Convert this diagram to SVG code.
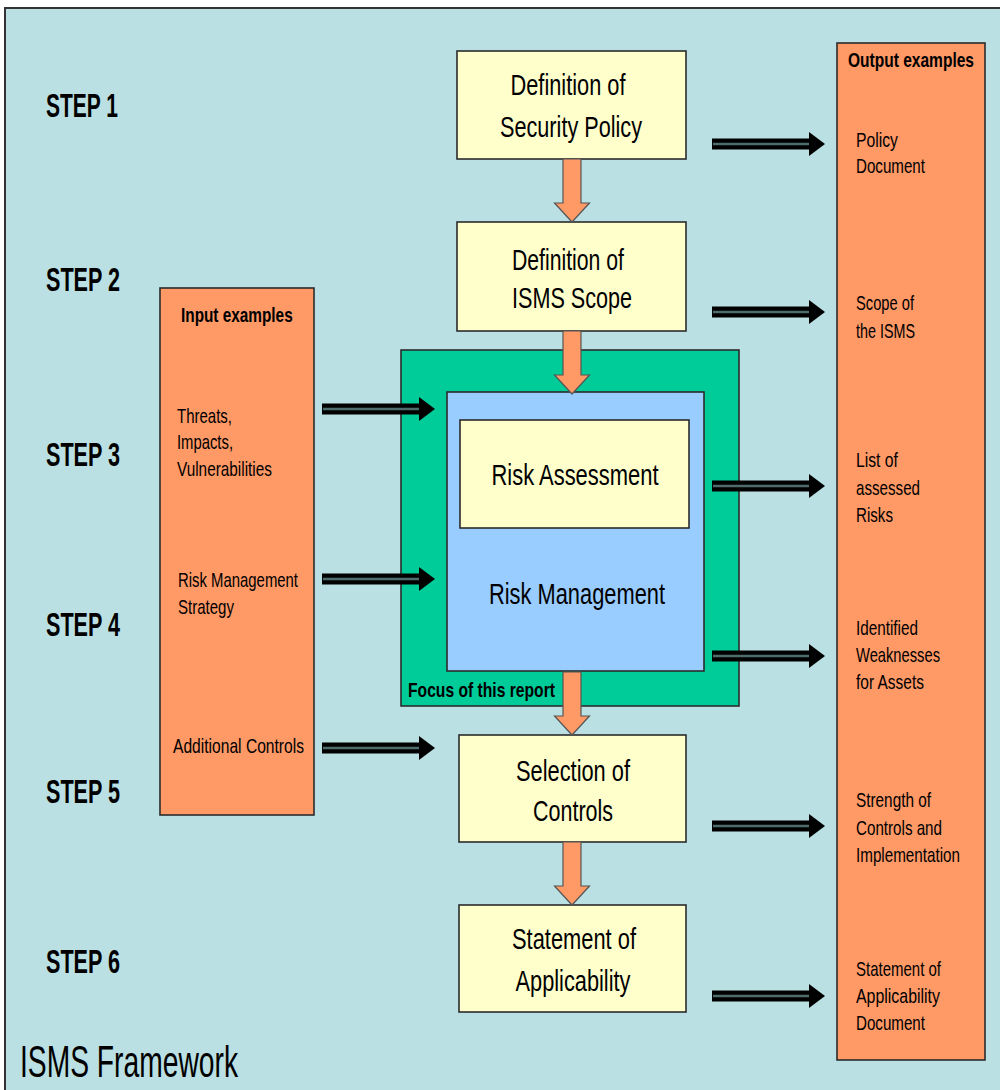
<svg xmlns="http://www.w3.org/2000/svg" width="1000" height="1090" viewBox="0 0 1000 1090">
  <style>
    text { font-family: "Liberation Sans", Arial, sans-serif; fill: #000; }
    .box { stroke: #2b2b2b; stroke-width: 1.6; }
    .yellow { fill: #FFFFCC; }
    .orange { fill: #FF9966; }
    .green { fill: #00CC99; }
    .blue { fill: #99CCFF; }
    .step { font-size: 33px; font-weight: bold; }
    .main { font-size: 30px; text-anchor: middle; }
    .small { font-size: 21px; }
    .head { font-size: 21px; font-weight: bold; }
    .flow { fill: #FF9966; stroke: #555; stroke-width: 1.2; }
    .shaft { fill: #000; }
    .gap { stroke: #4e6c6c; stroke-width: 2.5; }
  </style>
  <defs>
    <!-- double-line arrow pointing right, origin at the left end of the shaft -->
    <g id="dbl">
      <rect class="shaft" x="0" y="-5.5" width="99" height="11"/>
      <line class="gap" x1="1" y1="0" x2="98" y2="0"/>
      <polygon class="shaft" points="97,-12 113,0 97,12"/>
    </g>
    <!-- wide block arrow pointing down, origin at the top centre -->
    <g id="blk44">
      <polygon class="flow" points="-9,0 9,0 9,44 17.5,44 0,63 -17.5,44 -9,44"/>
    </g>
  </defs>

  <!-- page frame -->
  <rect x="0" y="0" width="1000" height="1090" fill="#ffffff"/>
  <rect x="5" y="8" width="1010" height="1100" fill="#BBE0E3" stroke="#333" stroke-width="2"/>

  <!-- step labels -->
  <g id="steps">
    <text class="step" x="46" y="117" textLength="72" lengthAdjust="spacingAndGlyphs">STEP 1</text>
    <text class="step" x="46" y="291" textLength="74" lengthAdjust="spacingAndGlyphs">STEP 2</text>
    <text class="step" x="46" y="466" textLength="74" lengthAdjust="spacingAndGlyphs">STEP 3</text>
    <text class="step" x="46" y="636" textLength="74" lengthAdjust="spacingAndGlyphs">STEP 4</text>
    <text class="step" x="46" y="803" textLength="74" lengthAdjust="spacingAndGlyphs">STEP 5</text>
    <text class="step" x="46" y="973" textLength="74" lengthAdjust="spacingAndGlyphs">STEP 6</text>
  </g>

  <!-- input examples column -->
  <g id="inputs">
    <rect class="box orange" x="160" y="288" width="154" height="527"/>
    <text class="head" transform="translate(181 322) scale(0.73 1)" x="0" y="0" textLength="153" lengthAdjust="spacingAndGlyphs">Input examples</text>
    <text class="small" x="177" y="423" textLength="55" lengthAdjust="spacingAndGlyphs">Threats,</text>
    <text class="small" x="177" y="449" textLength="56" lengthAdjust="spacingAndGlyphs">Impacts,</text>
    <text class="small" x="177" y="476" textLength="95" lengthAdjust="spacingAndGlyphs">Vulnerabilities</text>
    <text class="small" x="178" y="587" textLength="120" lengthAdjust="spacingAndGlyphs">Risk Management</text>
    <text class="small" x="178" y="614" textLength="56" lengthAdjust="spacingAndGlyphs">Strategy</text>
    <text class="small" x="173" y="753" textLength="131" lengthAdjust="spacingAndGlyphs">Additional Controls</text>
  </g>

  <!-- output examples column -->
  <g id="outputs">
    <rect class="box orange" x="837" y="43" width="148" height="1017"/>
    <text class="head" transform="translate(848 67) scale(0.741 1)" x="0" y="0" textLength="170" lengthAdjust="spacingAndGlyphs">Output examples</text>
    <text class="small" x="856" y="147" textLength="42" lengthAdjust="spacingAndGlyphs">Policy</text>
    <text class="small" x="856" y="173" textLength="69" lengthAdjust="spacingAndGlyphs">Document</text>
    <text class="small" x="856" y="310" textLength="58" lengthAdjust="spacingAndGlyphs">Scope of</text>
    <text class="small" x="856" y="338" textLength="59" lengthAdjust="spacingAndGlyphs">the ISMS</text>
    <text class="small" x="856" y="467" textLength="42" lengthAdjust="spacingAndGlyphs">List of</text>
    <text class="small" x="856" y="495" textLength="64" lengthAdjust="spacingAndGlyphs">assessed</text>
    <text class="small" x="856" y="522" textLength="37" lengthAdjust="spacingAndGlyphs">Risks</text>
    <text class="small" x="856" y="635" textLength="62" lengthAdjust="spacingAndGlyphs">Identified</text>
    <text class="small" x="856" y="662" textLength="84" lengthAdjust="spacingAndGlyphs">Weaknesses</text>
    <text class="small" x="856" y="689" textLength="68" lengthAdjust="spacingAndGlyphs">for Assets</text>
    <text class="small" x="856" y="807" textLength="75" lengthAdjust="spacingAndGlyphs">Strength of</text>
    <text class="small" x="856" y="835" textLength="86" lengthAdjust="spacingAndGlyphs">Controls and</text>
    <text class="small" x="856" y="862" textLength="104" lengthAdjust="spacingAndGlyphs">Implementation</text>
    <text class="small" x="856" y="976" textLength="85" lengthAdjust="spacingAndGlyphs">Statement of</text>
    <text class="small" x="856" y="1003" textLength="84" lengthAdjust="spacingAndGlyphs">Applicability</text>
    <text class="small" x="856" y="1030" textLength="69" lengthAdjust="spacingAndGlyphs">Document</text>
  </g>

  <!-- focus area with risk management -->
  <g id="focus">
    <rect class="box green" x="401" y="350" width="338" height="356"/>
    <text class="head" x="408" y="697" textLength="147" lengthAdjust="spacingAndGlyphs">Focus of this report</text>
  </g>
  <g id="risk-management">
    <rect class="box blue" x="447" y="392" width="257" height="279"/>
    <text class="main" x="577" y="604" textLength="176" lengthAdjust="spacingAndGlyphs">Risk Management</text>
  </g>
  <g id="risk-assessment">
    <rect class="box yellow" x="460" y="420" width="229" height="108"/>
    <text class="main" x="575" y="485" textLength="167" lengthAdjust="spacingAndGlyphs">Risk Assessment</text>
  </g>

  <!-- process steps -->
  <g id="security-policy">
    <rect class="box yellow" x="457" y="51" width="229" height="108"/>
    <text class="main" x="568" y="95" textLength="115" lengthAdjust="spacingAndGlyphs">Definition of</text>
    <text class="main" x="571" y="137" textLength="142" lengthAdjust="spacingAndGlyphs">Security Policy</text>
  </g>
  <g id="isms-scope">
    <rect class="box yellow" x="457" y="222" width="229" height="109"/>
    <text class="main" x="568" y="270" textLength="112" lengthAdjust="spacingAndGlyphs">Definition of</text>
    <text class="main" x="572" y="308" textLength="120" lengthAdjust="spacingAndGlyphs">ISMS Scope</text>
  </g>
  <g id="selection-of-controls">
    <rect class="box yellow" x="459" y="735" width="227" height="107"/>
    <text class="main" x="573" y="781" textLength="114" lengthAdjust="spacingAndGlyphs">Selection of</text>
    <text class="main" x="573" y="821" textLength="80" lengthAdjust="spacingAndGlyphs">Controls</text>
  </g>
  <g id="statement-of-applicability">
    <rect class="box yellow" x="459" y="905" width="227" height="107"/>
    <text class="main" x="574" y="949" textLength="124" lengthAdjust="spacingAndGlyphs">Statement of</text>
    <text class="main" x="573" y="991" textLength="115" lengthAdjust="spacingAndGlyphs">Applicability</text>
  </g>

  <!-- connectors -->
  <g id="connectors">
    <use href="#blk44" x="572" y="159"/>
    <use href="#blk44" x="572" y="331"/>
    <use href="#blk44" x="572" y="672"/>
    <use href="#blk44" x="572" y="842"/>

    <use href="#dbl" x="322" y="409"/>
    <use href="#dbl" x="322" y="579"/>
    <use href="#dbl" x="322" y="748"/>

    <use href="#dbl" x="712" y="144"/>
    <use href="#dbl" x="712" y="312"/>
    <use href="#dbl" x="712" y="486"/>
    <use href="#dbl" x="712" y="656"/>
    <use href="#dbl" x="712" y="826"/>
    <use href="#dbl" x="712" y="996"/>
  </g>

  <text x="20" y="1077" font-size="44" textLength="218" lengthAdjust="spacingAndGlyphs">ISMS Framework</text>
</svg>
